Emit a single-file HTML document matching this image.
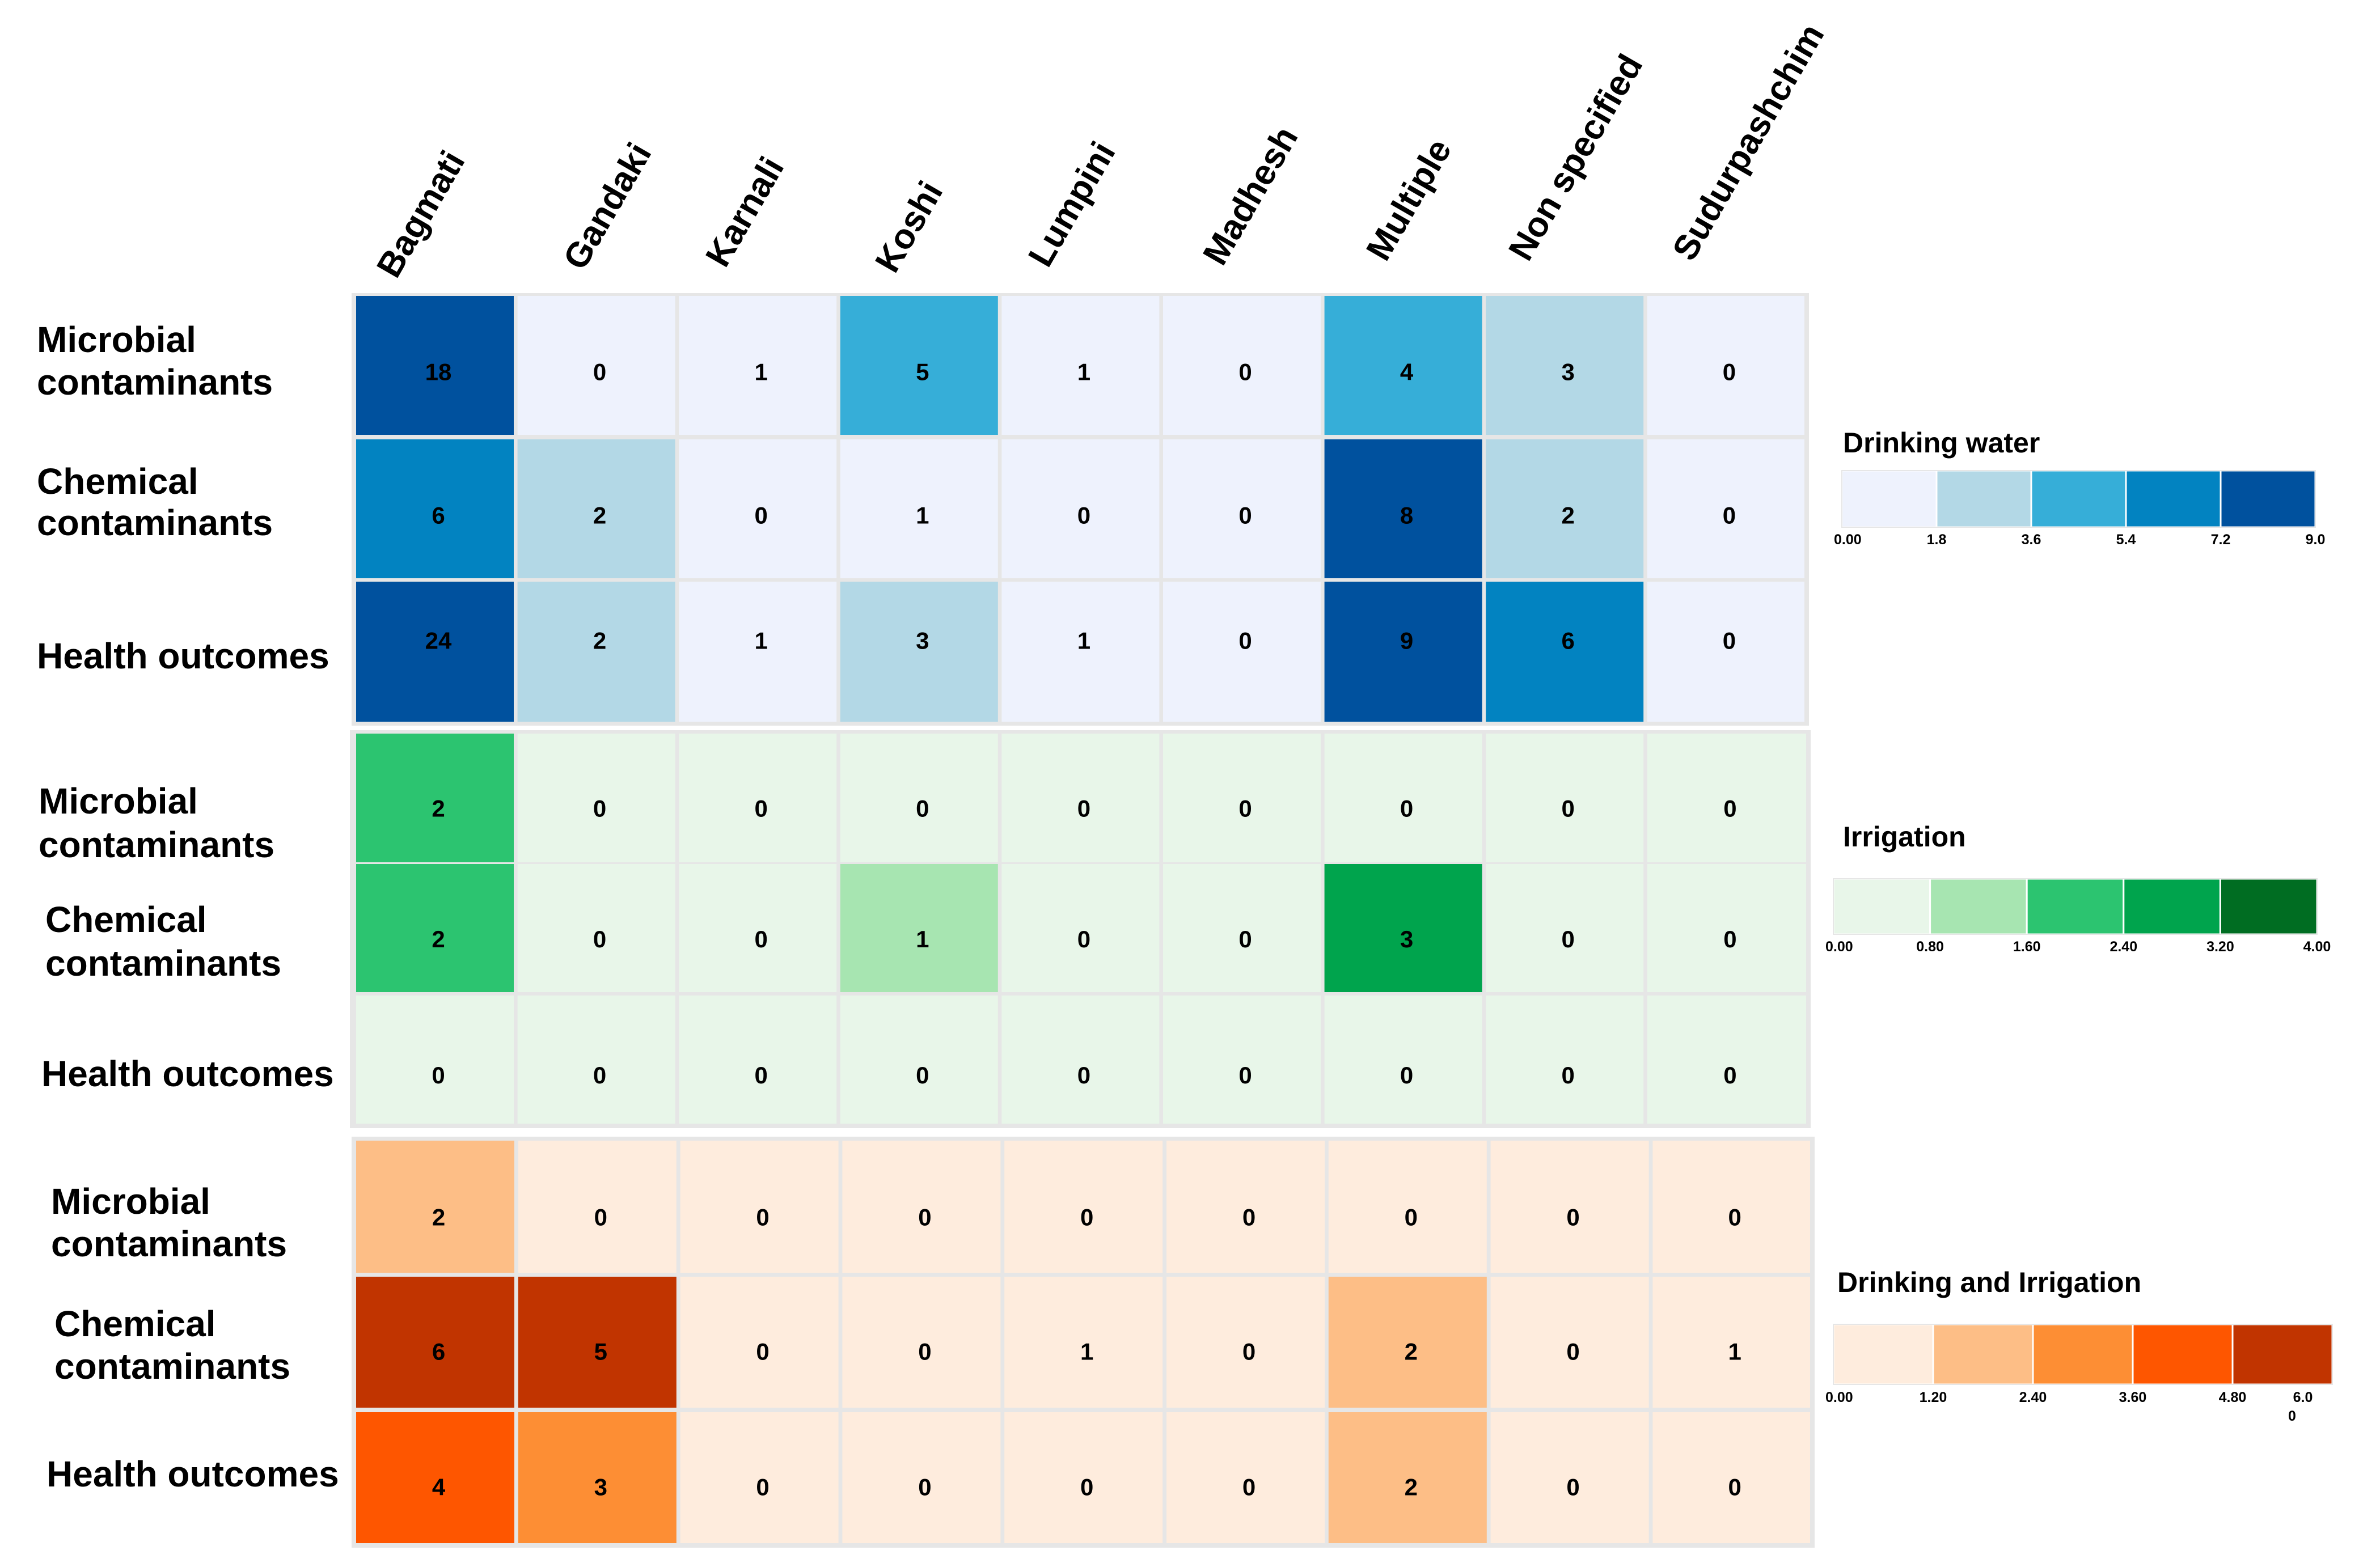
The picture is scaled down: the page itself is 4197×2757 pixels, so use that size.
<!DOCTYPE html>
<html><head><meta charset="utf-8"><style>
html,body{margin:0;padding:0;background:#fff}
svg{display:block}
text{font-family:"Liberation Sans",Arial,sans-serif}
</style></head><body>
<svg id="chart" xmlns="http://www.w3.org/2000/svg" width="4197" height="2757" viewBox="0 0 4197 2757"></svg>
<script>
const regions = ["Bagmati","Gandaki","Karnali","Koshi","Lumpini","Madhesh","Multiple","Non specified","Sudurpashchim"];
const rowNames = ["Microbial contaminants","Chemical contaminants","Health outcomes"];
const drinkingMicrobial = [18,0,1,5,1,0,4,3,0];
const drinkingChemical  = [6,2,0,1,0,0,8,2,0];
const drinkingHealth    = [24,2,1,3,1,0,9,6,0];
const irrigMicrobial = [2,0,0,0,0,0,0,0,0];
const irrigChemical  = [2,0,0,1,0,0,3,0,0];
const irrigHealth    = [0,0,0,0,0,0,0,0,0];
const bothMicrobial = [2,0,0,0,0,0,0,0,0];
const bothChemical  = [6,5,0,0,1,0,2,0,1];
const bothHealth    = [4,3,0,0,0,0,2,0,0];
const drinkingTicks = ["0.00","1.8","3.6","5.4","7.2","9.0"];
const irrigTicks = ["0.00","0.80","1.60","2.40","3.20","4.00"];
const bothTicks = ["0.00","1.20","2.40","3.60","4.80","6.0"];
const drinkingMax = 9, irrigMax = 4, bothMax = 6;

const NS="http://www.w3.org/2000/svg";
const svg=document.getElementById('chart');
function mk(tag,attrs,parent){const e=document.createElementNS(NS,tag);for(const k in attrs)e.setAttribute(k,attrs[k]);(parent||svg).appendChild(e);return e;}

const blues=["#eef2fd","#b3d8e6","#36aed8","#0283c1","#00519e"];
const greens=["#e8f6e9","#a7e5b1","#2cc470","#00a44d","#006d22"];
const oranges=["#feecdd","#fdbe86","#fd8e34","#fe5600","#c13400"];

const colX0=628;
function colorFor(v,max,pal){let b=Math.floor(v/(max/5));if(b>4)b=4;if(b<0)b=0;return pal[b];}

const labelPts=[[699,494],[1028,480],[1279,475],[1578,485],[1848,475],[2156,472],[2444,464],[2695,464],[2984,464]];
regions.forEach((r,i)=>{
  const t=mk('text',{x:0,y:0,'font-size':62,'font-weight':'bold',fill:'#000',transform:`translate(${labelPts[i][0]},${labelPts[i][1]}) rotate(-60)`});
  
  
  t.textContent=r;
});

const panels=[
 {name:'drinking-water',data:[drinkingMicrobial,drinkingChemical,drinkingHealth],max:drinkingMax,pal:blues,pitch:284.6,cw:278,
  bg:[620,517,3190,1280],rows:[[522,767],[775,1020],[1026,1273]],numDy:[11,11,-20],
  labels:[[["Microbial",65,621],["contaminants",65,696]],[["Chemical",65,871],["contaminants",65,944]],[["Health outcomes",65,1179]]],
  title:'Drinking water',titleXY:[3250,798],bar:[3248,830,4083,930],ticks:drinkingTicks,tickY:960},
 {name:'irrigation',data:[irrigMicrobial,irrigChemical,irrigHealth],max:irrigMax,pal:greens,pitch:284.6,cw:278,
  bg:[617,1288,3193,1990],rows:[[1294,1521],[1524,1750],[1756,1982]],numDy:[18,19,27],
  labels:[[["Microbial",68,1435],["contaminants",68,1512]],[["Chemical",80,1644],["contaminants",80,1721]],[["Health outcomes",73,1916]]],
  title:'Irrigation',titleXY:[3250,1493],bar:[3233,1550,4086,1648],ticks:irrigTicks,tickY:1678},
 {name:'drinking-and-irrigation',data:[bothMicrobial,bothChemical,bothHealth],max:bothMax,pal:oranges,pitch:285.8,cw:279,
  bg:[620,2005,3200,2730],rows:[[2012,2245],[2252,2483],[2491,2722]],numDy:[18,16,16],
  labels:[[["Microbial",90,2141],["contaminants",90,2216]],[["Chemical",96,2357],["contaminants",96,2432]],[["Health outcomes",82,2622]]],
  title:'Drinking and Irrigation',titleXY:[3240,2279],bar:[3233,2336,4113,2442],ticks:bothTicks,tickY:2473}
];

panels.forEach((p,pi)=>{
  const g=mk('g',{});
  
  
  const bg=mk('rect',{x:p.bg[0],y:p.bg[1],width:p.bg[2]-p.bg[0],height:p.bg[3]-p.bg[1],fill:'#e6e6e6'},g);
  
  
  p.data.forEach((arr,ri)=>{
    const [y0,y1]=p.rows[ri];
    arr.forEach((v,ci)=>{
      const x=colX0+ci*p.pitch;
      const cw=ci===8?(p.bg[2]-8-x):p.cw;
      const r=mk('rect',{x:x,y:y0,width:cw,height:y1-y0,fill:colorFor(v,p.max,p.pal)},g);
      
      
      const t=mk('text',{x:x+cw/2+6,y:(y0+y1)/2+15+p.numDy[ri],'font-size':42,'font-weight':'bold','text-anchor':'middle',fill:'#000'},g);
      
      
      t.textContent=String(v);
    });
    p.labels[ri].forEach(l=>{
      const t=mk('text',{x:l[1],y:l[2],'font-size':64,'font-weight':'bold',fill:'#000'},g);
      
      
      t.textContent=l[0];
    });
  });
  const lg=mk('g',{});
  
  
  const tt=mk('text',{x:p.titleXY[0],y:p.titleXY[1],'font-size':50,'font-weight':'bold',fill:'#000'},lg);
  
  
  tt.textContent=p.title;
  const [bx0,by0,bx1,by1]=p.bar;
  const sw=(bx1-bx0)/5;
  p.pal.forEach((c,k)=>{
    const r=mk('rect',{x:bx0+k*sw,y:by0,width:sw,height:by1-by0,fill:c,stroke:'#fff','stroke-width':3},lg);
    
    
  });
  mk('rect',{x:bx0,y:by0,width:bx1-bx0,height:by1-by0,fill:'none',stroke:'#e6e6e6','stroke-width':2},lg);
  p.ticks.forEach((tk,k)=>{
    let tx=bx0+k*sw;
    if(pi===2&&k===5) tx=bx1-52;
    const t=mk('text',{x:k===0?tx-14:tx,y:p.tickY,'font-size':25,'font-weight':'bold','text-anchor':k===0?'start':'middle',fill:'#000'},lg);
    
    
    t.textContent=tk;
  });
  if(pi===2){
    const t=mk('text',{x:bx1-78,y:p.tickY+33,'font-size':25,'font-weight':'bold',fill:'#000'},lg);
    
    
    t.textContent='0';
  }
});
</script>
</body></html>
